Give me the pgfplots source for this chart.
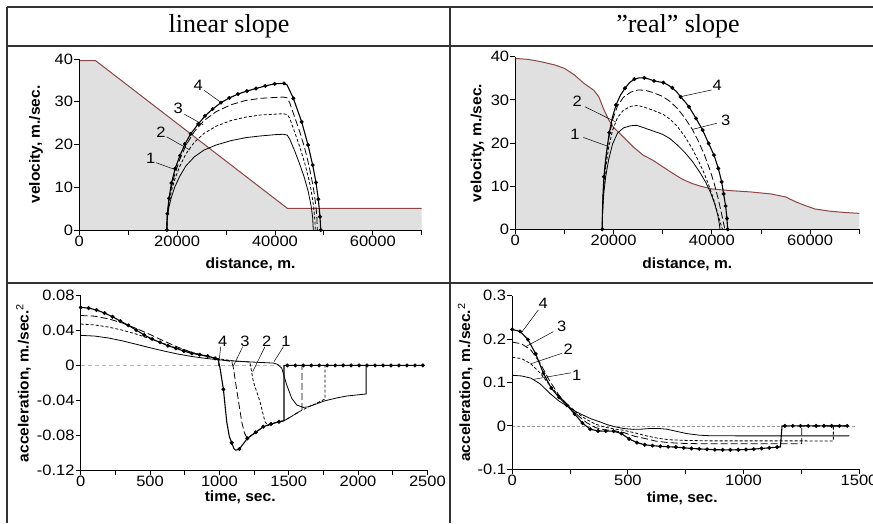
\documentclass[border=0pt]{standalone}
\usepackage{fontspec}
\setmainfont{Liberation Serif}
\newfontfamily\arial[FakeStretch=1.1]{Liberation Sans}
\newfontfamily\arialL[FakeStretch=1.05]{Liberation Sans}
\usepackage{pgfplots}
\pgfplotsset{compat=1.18}

\definecolor{slopefill}{RGB}{224,224,224}
\definecolor{slopeline}{RGB}{140,70,70}
\newcommand\tickfont{\arial\fontsize{15}{17}\selectfont}
\newcommand\labfont{\arialL\bfseries\fontsize{14.8}{17}\selectfont}

\tikzset{
  lead/.style={black, line width=0.5pt},
  num/.style={font=\tickfont},
}
\pgfplotsset{
  panel/.style={
    scale only axis, anchor=south west, enlargelimits=false, clip=false,
    axis lines=left, axis line style={-, line width=0.8pt},
    axis on top,
    tick align=outside, major tick length=5pt, minor tick length=5pt,
    major tick style={black, line width=0.8pt},
    minor tick style={black, line width=0.8pt},
    scaled ticks=false,
    /pgf/number format/assume math mode=true,
    /pgf/number format/1000 sep={},
    /pgf/number format/fixed,
    /pgf/number format/precision=2,
    tick label style={font=\tickfont, inner sep=1pt},
    label style={font=\labfont},
    xlabel style={anchor=center},
    ylabel style={anchor=center},
  },
  c1/.style={black, line width=0.8pt},
  c2/.style={black, line width=0.8pt, dash pattern=on 3pt off 2pt},
  c3/.style={black, line width=0.8pt, dash pattern=on 7pt off 3pt},
  c4/.style={black, line width=1.1pt},
  c4m/.style={only marks, mark=*, mark size=1.8pt, mark options={fill=black, draw=black}},
}

\begin{document}
\begin{tikzpicture}

% table frame
\draw[black!80, line width=1.5pt] (7pt,-7pt) -- (873pt,-7pt);
\draw[black!80, line width=1.5pt] (7pt,-46pt) -- (873pt,-46pt);
\draw[black!80, line width=1.5pt] (7pt,-283pt) -- (873pt,-283pt);
\draw[black!80, line width=1.5pt] (7pt,-7pt) -- (7pt,-523pt);
\draw[black!80, line width=1.5pt] (450pt,-7pt) -- (450pt,-523pt);
\node[font=\fontsize{26}{30}\selectfont] at (229pt,-26.5pt) {linear slope};
\node[font=\fontsize{26}{30}\selectfont] at (678pt,-26.5pt) {”real” slope};

% ---- linear slope, velocity
\begin{axis}[panel, at={(79.3pt,-230pt)}, width=342.4pt, height=171pt,
  xmin=0, xmax=70000, ymin=0, ymax=40,
  xtick={0,20000,40000,60000}, minor xtick={10000,30000,50000,70000},
  ytick={0,10,20,30,40},
  xlabel={distance, m.}, ylabel={velocity, m./sec.},
  xlabel style={at={(axis description cs:0.5,-0.2)}},
  ylabel style={at={(axis description cs:-0.1265,0.5)}}]
\addplot[fill=slopefill, draw=none] coordinates {
  (0,39.6) (3350,39.6) (42520,5.08) (70000,5.08)} \closedcycle;
\addplot[slopeline, line width=1pt] coordinates {
  (0,39.6) (3350,39.6) (42520,5.08) (70000,5.08)};
\addplot[c1] coordinates {
  (17900,0) (17950,1.9) (18050,3.2) (18300,5.2) (18800,7.6) (19500,10.0)
  (20500,12.5) (21800,15.0) (23500,17.1) (25500,18.7) (28000,19.9)
  (31000,20.9) (34000,21.6) (37000,22.0) (40000,22.3) (41700,22.4)
  (42500,22.2) (43000,21.3) (44000,18.6) (45000,15.6) (46000,12.3)
  (46800,9.0) (47400,5.6) (47700,3.0) (47840,0)};
\addplot[c2] coordinates {
  (17900,0) (17950,2.2) (18050,3.7) (18300,6.0) (18800,9.0) (19500,11.8)
  (20500,14.8) (21800,17.8) (23500,20.5) (25500,22.6) (28000,24.3)
  (31000,25.6) (34000,26.4) (37000,26.9) (40000,27.1) (41700,27.2)
  (42500,27.0) (43000,26.2) (44000,23.0) (45000,19.7) (46000,16.0)
  (46800,12.5) (47400,9.3) (47900,5.5) (48150,2.5) (48250,0)};
\addplot[c3] coordinates {
  (17900,0) (17950,2.4) (18050,4.1) (18300,6.7) (18800,9.9) (19500,13.0)
  (20500,16.4) (21800,19.8) (23500,23.0) (25500,25.6) (28000,27.7)
  (31000,29.3) (34000,30.3) (37000,30.8) (40000,31.0) (41700,31.1)
  (42500,30.9) (43000,29.8) (44000,26.5) (45000,23.2) (46000,19.5)
  (46800,15.8) (47400,12.6) (47900,9.5) (48300,6.2) (48550,3.5) (48670,0)};
\addplot[c4] coordinates {
  (17900,0) (17950,2.6) (18010,3.8) (18336,7.4) (18850,11.0) (19600,14.4)
  (20580,17.4) (21600,20.1) (22770,22.5) (24330,24.8) (25700,26.7)
  (27260,28.3) (28970,29.8) (30670,30.9) (32440,31.8) (34280,32.5)
  (36120,33.1) (38030,33.7) (39940,34.2) (41850,34.3) (42500,33.9)
  (43760,30.8) (45460,25.3) (46760,19.9) (47710,15.2) (48390,11.1)
  (48870,7.2) (49210,3.1) (49350,0)};
\addplot[c4m] coordinates {
  (17900,0) (18010,3.8) (18336,7.4) (18850,11.0) (19600,14.4) (20580,17.4)
  (21600,20.1) (22770,22.5) (24330,24.8) (25700,26.7) (27260,28.3)
  (28970,29.8) (30670,30.9) (32440,31.8) (34280,32.5) (36120,33.1)
  (38030,33.7) (39940,34.2) (41850,34.3) (43760,30.8) (45460,25.3)
  (46760,19.9) (47710,15.2) (48390,11.1) (48870,7.2) (49210,3.1) (49350,0)};
\node[num] at (axis cs:24330,33.9) {4};
\draw[lead] (axis cs:25490,32.7) -- (axis cs:28760,30.0);
\node[num] at (axis cs:20240,28.5) {3};
\draw[lead] (axis cs:21470,27.1) -- (axis cs:25360,24.6);
\node[num] at (axis cs:16700,22.8) {2};
\draw[lead] (axis cs:17860,21.8) -- (axis cs:22630,18.7);
\node[num] at (axis cs:14590,16.8) {1};
\draw[lead] (axis cs:15680,15.75) -- (axis cs:19900,14.0);
\end{axis}

% ---- real slope, velocity
\begin{axis}[panel, at={(515.3pt,-229.3pt)}, width=344pt, height=172.6pt,
  xmin=0, xmax=70000, ymin=0, ymax=40,
  xtick={0,20000,40000,60000}, minor xtick={10000,30000,50000,70000},
  ytick={0,10,20,30,40},
  xlabel={distance, m.}, ylabel={velocity, m./sec.},
  xlabel style={at={(axis description cs:0.5,-0.2)}},
  ylabel style={at={(axis description cs:-0.11,0.5)}}]
\addplot[fill=slopefill, draw=none] coordinates {
  (0,39.6) (2500,39.4) (5000,38.9) (8000,38.1) (10000,37.3) (12000,35.8)
  (14000,33.8) (16000,32.2) (17000,30.7) (18000,27.8) (19000,25.4)
  (20000,23.6) (22000,21.4) (24000,19.1) (26000,17.2) (28000,16.0)
  (30000,14.5) (32000,13.0) (34000,11.6) (36000,10.6) (38000,9.9)
  (40000,9.35) (44000,8.95) (48000,8.65) (52000,8.2) (55000,7.5)
  (57000,6.4) (59000,5.5) (61000,4.7) (64000,4.2) (67000,3.9) (70000,3.7)}
  \closedcycle;
\addplot[slopeline, line width=1pt] coordinates {
  (0,39.6) (2500,39.4) (5000,38.9) (8000,38.1) (10000,37.3) (12000,35.8)
  (14000,33.8) (16000,32.2) (17000,30.7) (18000,27.8) (19000,25.4)
  (20000,23.6) (22000,21.4) (24000,19.1) (26000,17.2) (28000,16.0)
  (30000,14.5) (32000,13.0) (34000,11.6) (36000,10.6) (38000,9.9)
  (40000,9.35) (44000,8.95) (48000,8.65) (52000,8.2) (55000,7.5)
  (57000,6.4) (59000,5.5) (61000,4.7) (64000,4.2) (67000,3.9) (70000,3.7)};
\addplot[c1] coordinates {
  (17700,0) (17720,2.2) (17800,4.8) (18000,8.3) (18400,12.2) (19000,16.2)
  (19800,19.8) (20800,22.3) (22000,23.5) (23500,24.0) (24700,24.1)
  (26000,23.6) (28000,22.8) (30000,22.0) (31500,21.0) (33000,19.5)
  (34500,17.8) (36000,15.8) (37500,13.3) (38800,10.8) (39800,8.3)
  (40600,5.8) (41200,3.3) (41550,1.0) (41650,0)};
\addplot[c2] coordinates {
  (17700,0) (17720,2.5) (17800,5.6) (18000,9.7) (18400,14.3) (19000,19.0)
  (19800,23.0) (20800,25.9) (22000,27.6) (23500,28.5) (24800,28.7)
  (26000,28.4) (28000,27.6) (30000,26.7) (31500,25.5) (33000,23.8)
  (34500,21.5) (36000,18.7) (37300,15.8) (38500,12.8) (39500,9.8)
  (40400,6.8) (41100,4.0) (41800,1.2) (42150,0)};
\addplot[c3] coordinates {
  (17700,0) (17720,2.8) (17800,6.2) (18000,10.7) (18400,15.8) (19000,21.0)
  (19800,25.4) (20800,28.6) (22000,30.6) (23500,31.8) (25000,32.3)
  (26500,32.2) (28000,31.7) (30000,30.8) (31500,29.6) (33000,28.0)
  (34500,25.8) (36000,23.2) (37300,20.3) (38500,17.2) (39600,13.8)
  (40500,10.5) (41300,7.0) (41900,4.0) (42400,1.3) (42650,0)};
\addplot[c4] coordinates {
  (17700,0) (17720,3.0) (17780,6.0) (17880,8.9) (18040,12.2) (18300,15.3)
  (18650,18.6) (19130,22.4) (19750,25.9) (20490,28.8) (21350,31.0)
  (22320,32.7) (23250,34.0) (24220,34.8) (25200,35.1) (26250,35.1)
  (27250,34.8) (28220,34.4) (29150,34.2) (30120,34.0) (31000,33.5)
  (31950,32.8) (32800,31.9) (33640,30.7) (34500,29.6) (35340,28.4)
  (36770,25.7) (38120,23.0) (39340,19.9) (40430,17.2) (41310,14.1)
  (41990,11.0) (42390,8.2) (42800,5.4) (43070,2.5) (43210,0)};
\addplot[c4m] coordinates {
  (17700,0) (18040,12.2) (19130,22.4) (20490,28.8) (22320,32.7) (24220,34.8)
  (26250,35.1) (28220,34.4) (30120,34.0) (31950,32.8) (33640,30.7)
  (35340,28.4) (36770,25.7) (38120,23.0) (39340,19.9) (40430,17.2)
  (41310,14.1) (41990,11.0) (42390,8.2) (42800,5.4) (43070,2.5) (43210,0)};
\node[num] at (axis cs:41080,33.4) {4};
\draw[lead] (axis cs:39960,32.3) -- (axis cs:33490,30.7);
\node[num] at (axis cs:12600,29.6) {2};
\draw[lead] (axis cs:14180,28.4) -- (axis cs:20420,24.9);
\node[num] at (axis cs:12140,22.0) {1};
\draw[lead] (axis cs:13840,21.3) -- (axis cs:18930,19.2);
\node[num] at (axis cs:42800,25.3) {3};
\draw[lead] (axis cs:41080,24.6) -- (axis cs:36200,23.2);
\end{axis}

% ---- linear slope, acceleration
\begin{axis}[panel, at={(80.7pt,-470pt)}, width=346.7pt, height=174.3pt,
  xmin=0, xmax=2500, ymin=-0.12, ymax=0.08,
  xtick={0,500,1000,1500,2000,2500}, minor xtick={250,750,1250,1750,2250},
  ytick={-0.12,-0.08,-0.04,0,0.04,0.08},
  xlabel={time, sec.}, ylabel={acceleration, m./sec.\textsuperscript{\mdseries 2}},
  xlabel style={at={(axis description cs:0.46,-0.155)}},
  ylabel style={at={(axis description cs:-0.165,0.5)}}]
\addplot[gray!55, line width=1.2pt, dash pattern=on 4pt off 3pt] coordinates {(0,0) (2480,0)};
\addplot[c1] coordinates {
  (0,0.0345) (100,0.0337) (200,0.0315) (300,0.0282) (400,0.0243) (500,0.0203)
  (600,0.0165) (700,0.0131) (800,0.0103) (900,0.0081) (1000,0.0064)
  (1100,0.0051) (1200,0.0042) (1300,0.0034) (1390,0.0027) (1420,0.0012)
  (1450,-0.0033) (1486,-0.0225) (1522,-0.0378) (1558,-0.0454) (1605,-0.0482)
  (1640,-0.0475) (1678,-0.0454) (1762,-0.0405) (1850,-0.0372) (1918,-0.0351)
  (2000,-0.0337) (2058,-0.0328) (2058,0) (2468,0)};
\addplot[c2] coordinates {
  (0,0.0475) (100,0.0465) (200,0.044) (300,0.0405) (400,0.036) (500,0.0305)
  (600,0.025) (700,0.0195) (800,0.015) (900,0.0108) (1000,0.0075)
  (1100,0.0052) (1200,0.0042) (1221,0.003) (1245,-0.0187) (1293,-0.0416)
  (1329,-0.0646) (1350,-0.069) (1372,-0.0672) (1430,-0.0646) (1466,-0.0635)
  (1520,-0.0585) (1582,-0.0525) (1650,-0.047) (1700,-0.0435) (1762,-0.0385)
  (1762,0) (2468,0)};
\addplot[c3] coordinates {
  (0,0.0573) (100,0.0565) (200,0.0535) (300,0.0487) (400,0.0425) (500,0.0355)
  (600,0.028) (700,0.021) (800,0.015) (900,0.0105) (1000,0.0068)
  (1060,0.0052) (1089,0.0045) (1100,-0.002) (1125,-0.028) (1161,-0.0646)
  (1180,-0.077) (1200,-0.0835) (1262,-0.0768) (1317,-0.0703) (1372,-0.0672)
  (1430,-0.0646) (1466,-0.0635) (1520,-0.0585) (1596,-0.051) (1596,0) (2468,0)};
\addplot[c4] coordinates {
  (0,0.0666) (57,0.0658) (114,0.0636) (172,0.0601) (229,0.0559) (286,0.0509)
  (343,0.046) (400,0.0406) (458,0.0349) (515,0.0303) (572,0.0265)
  (629,0.0226) (686,0.0196) (744,0.0165) (801,0.0138) (858,0.0123)
  (915,0.0108) (969,0.0081) (992,0.0062) (1005,-0.0033) (1029,-0.0274)
  (1053,-0.0646) (1072,-0.0818) (1089,-0.0887) (1105,-0.0955) (1117,-0.0972)
  (1130,-0.0968) (1144,-0.0959) (1170,-0.0905) (1202,-0.0837) (1262,-0.0768)
  (1317,-0.0703) (1372,-0.0672) (1430,-0.0646) (1466,-0.0635) (1466,0)
  (2468,0)};
\addplot[c4m] coordinates {
  (0,0.0666) (57,0.0658) (114,0.0636) (172,0.0601) (229,0.0559) (286,0.0509)
  (343,0.046) (400,0.0406) (458,0.0349) (515,0.0303) (572,0.0265)
  (629,0.0226) (686,0.0196) (744,0.0165) (801,0.0138) (858,0.0123)
  (915,0.0108) (969,0.0081) (1029,-0.0274) (1089,-0.0887) (1144,-0.0959)
  (1202,-0.0837) (1262,-0.0768) (1317,-0.0703) (1372,-0.0672) (1430,-0.0646)
  (1490,0) (1547.5,0) (1605,0) (1662.5,0) (1720,0) (1777.5,0) (1835,0)
  (1892.5,0) (1950,0) (2007.5,0) (2065,0) (2122.5,0) (2180,0) (2237.5,0)
  (2295,0) (2352.5,0) (2410,0) (2467.5,0)};
\node[num] at (axis cs:1024,0.0272) {4};
\draw[lead] (axis cs:1010,0.0215) -- (axis cs:993,-0.0007);
\node[num] at (axis cs:1185,0.0272) {3};
\draw[lead] (axis cs:1168,0.0215) -- (axis cs:1101,-0.0007);
\node[num] at (axis cs:1341,0.0272) {2};
\draw[lead] (axis cs:1329,0.0215) -- (axis cs:1240,-0.0072);
\node[num] at (axis cs:1481,0.0272) {1};
\draw[lead] (axis cs:1462,0.0215) -- (axis cs:1394,0.0043);
\end{axis}

% ---- real slope, acceleration
\begin{axis}[panel, at={(512.3pt,-469.3pt)}, width=346.7pt, height=173.7pt,
  xmin=0, xmax=1500, ymin=-0.1, ymax=0.3,
  xtick={0,500,1000,1500}, minor xtick={250,750,1250},
  ytick={-0.1,0,0.1,0.2,0.3},
  xlabel={time, sec.}, ylabel={acceleration, m./sec.\textsuperscript{\mdseries 2}},
  xlabel style={at={(axis description cs:0.49,-0.165)}},
  ylabel style={at={(axis description cs:-0.136,0.5)}}]
\addplot[gray!80, line width=0.6pt, dash pattern=on 3pt off 2pt] coordinates {(0,0) (1490,0)};
\addplot[c1] coordinates {
  (0,0.1165) (40,0.115) (80,0.11) (120,0.097) (163,0.0747) (200,0.058)
  (242,0.0438) (275,0.033) (307,0.0246) (340,0.0165) (379,0.0092)
  (410,0.003) (444,-0.002) (480,-0.006) (523,-0.008) (560,-0.0075)
  (595,-0.006) (630,-0.0058) (667,-0.0075) (710,-0.0125) (753,-0.0176)
  (811,-0.0215) (860,-0.0228) (1000,-0.023) (1458,-0.023)};
\addplot[c2] coordinates {
  (0,0.158) (40,0.155) (80,0.143) (120,0.122) (160,0.095) (200,0.07)
  (240,0.049) (280,0.03) (320,0.015) (360,0.004) (400,-0.003) (440,-0.007)
  (480,-0.01) (530,-0.016) (580,-0.023) (630,-0.0285) (680,-0.032)
  (753,-0.0335) (850,-0.0345) (1389,-0.0346) (1389,0) (1449,0)};
\addplot[c3] coordinates {
  (0,0.193) (40,0.189) (80,0.175) (120,0.145) (160,0.105) (200,0.072)
  (240,0.047) (280,0.026) (320,0.008) (360,-0.004) (400,-0.009) (440,-0.011)
  (480,-0.015) (530,-0.024) (574,-0.029) (620,-0.035) (667,-0.038)
  (720,-0.04) (800,-0.041) (1252,-0.041) (1252,0) (1449,0)};
\addplot[c4] coordinates {
  (0,0.222) (33.7,0.2175) (67.4,0.199) (101.1,0.166) (134.8,0.121)
  (168.5,0.087) (202.2,0.0655) (235.9,0.0475) (269.6,0.0275) (303.3,0.0065)
  (337,-0.0075) (370.7,-0.0118) (404.4,-0.012) (438.1,-0.0122)
  (471.8,-0.0175) (505.5,-0.030) (539.2,-0.0385) (572.9,-0.0435)
  (606.6,-0.0455) (640.3,-0.047) (674,-0.048) (707.7,-0.049)
  (741.4,-0.0505) (775.1,-0.052) (808.8,-0.053) (842.5,-0.054)
  (876.2,-0.0548) (909.9,-0.0552) (943.6,-0.0552) (977.3,-0.055)
  (1011,-0.0545) (1044.7,-0.0535) (1078.4,-0.052) (1112.1,-0.0505)
  (1145.8,-0.049) (1160,-0.0485) (1167,0) (1449.1,0)};
\addplot[c4m] coordinates {
  (0,0.222) (33.7,0.2175) (67.4,0.199) (101.1,0.166) (134.8,0.121)
  (168.5,0.087) (202.2,0.0655) (235.9,0.0475) (269.6,0.0275) (303.3,0.0065)
  (337,-0.0075) (370.7,-0.0118) (404.4,-0.012) (438.1,-0.0122)
  (471.8,-0.0175) (505.5,-0.030) (539.2,-0.0385) (572.9,-0.0435)
  (606.6,-0.0455) (640.3,-0.047) (674,-0.048) (707.7,-0.049)
  (741.4,-0.0505) (775.1,-0.052) (808.8,-0.053) (842.5,-0.054)
  (876.2,-0.0548) (909.9,-0.0552) (943.6,-0.0552) (977.3,-0.055)
  (1011,-0.0545) (1044.7,-0.0535) (1078.4,-0.052) (1112.1,-0.0505)
  (1145.8,-0.049) (1179.5,0) (1213.2,0) (1246.9,0) (1280.6,0) (1314.3,0)
  (1348,0) (1381.7,0) (1415.4,0) (1449.1,0)};
\node[num] at (axis cs:134,0.2824) {4};
\draw[lead] (axis cs:112.6,0.267) -- (axis cs:40.7,0.2155);
\node[num] at (axis cs:213.7,0.2285) {3};
\draw[lead] (axis cs:177.6,0.217) -- (axis cs:60,0.183);
\node[num] at (axis cs:242,0.1763) {2};
\draw[lead] (axis cs:214,0.167) -- (axis cs:76.6,0.1424);
\node[num] at (axis cs:278.6,0.117) {1};
\draw[lead] (axis cs:254,0.1223) -- (axis cs:91,0.107);
\end{axis}

\pgfresetboundingbox
\path (0pt,0pt) rectangle (873pt,-523pt);
\end{tikzpicture}
\end{document}
